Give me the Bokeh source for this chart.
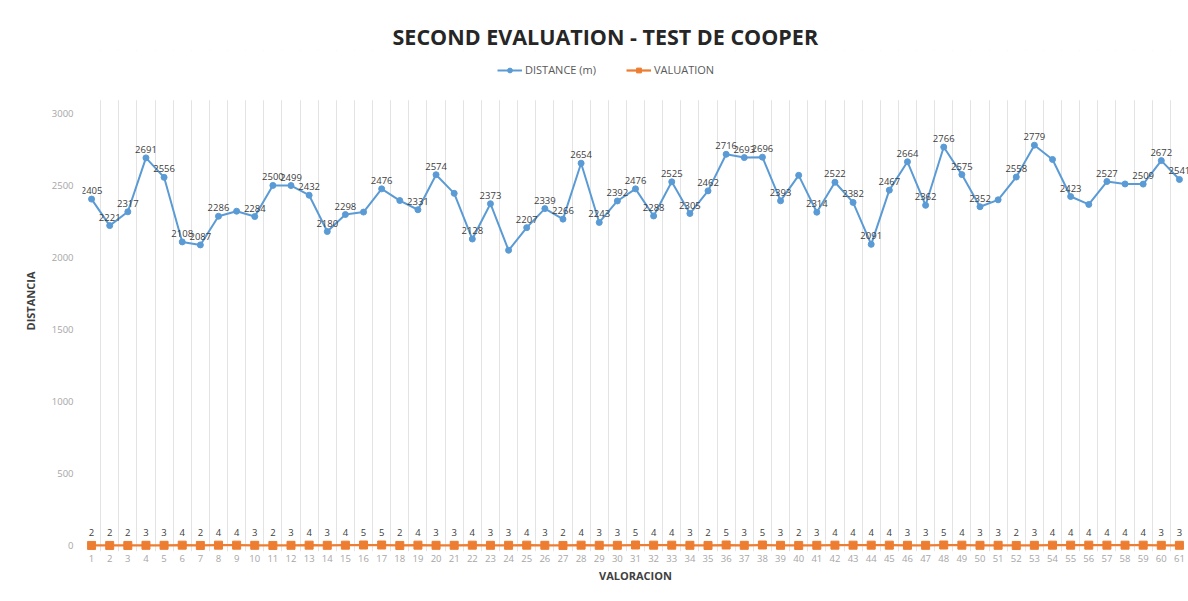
from bokeh.plotting import figure
from bokeh.models import (Range1d, FixedTicker, Legend, LegendItem, ColumnDataSource,
                          BoxAnnotation)
from bokeh.core.properties import value
from bokeh.embed import file_html
from bokeh.resources import INLINE

categories = list(range(1, 62))
distance = [2405, 2221, 2317, 2691, 2556, 2108, 2087, 2286, 2321, 2284,
            2500, 2499, 2432, 2180, 2298, 2315, 2476, 2395, 2331, 2574,
            2445, 2128, 2373, 2050, 2207, 2339, 2266, 2654, 2243, 2392,
            2476, 2288, 2525, 2305, 2462, 2716, 2693, 2696, 2393, 2570,
            2314, 2522, 2382, 2091, 2467, 2664, 2362, 2766, 2575, 2352,
            2400, 2558, 2779, 2680, 2423, 2368, 2527, 2510, 2509, 2672,
            2541]
distance_labels = ["2405", "2221", "2317", "2691", "2556", "2108", "2087", "2286", "", "2284",
                   "2500", "2499", "2432", "2180", "2298", "", "2476", "", "2331", "2574",
                   "", "2128", "2373", "", "2207", "2339", "2266", "2654", "2243", "2392",
                   "2476", "2288", "2525", "2305", "2462", "2716", "2693", "2696", "2393", "",
                   "2314", "2522", "2382", "2091", "2467", "2664", "2362", "2766", "2575", "2352",
                   "", "2558", "2779", "", "2423", "", "2527", "", "2509", "2672",
                   "2541"]
valuation = [2, 2, 2, 3, 3, 4, 2, 4, 4, 3, 2, 3, 4, 3, 4, 5, 5, 2, 4, 3,
             3, 4, 3, 3, 4, 3, 2, 4, 3, 3, 5, 4, 4, 3, 2, 5, 3, 5, 3, 2,
             3, 4, 4, 4, 4, 3, 3, 5, 4, 3, 3, 2, 3, 4, 4, 4, 4, 4, 4, 3,
             3]
y_ticks = [0, 500, 1000, 1500, 2000, 2500, 3000]

title_text = "SECOND EVALUATION - TEST DE COOPER"
x_title = "VALORACION"
y_title = "DISTANCIA"
series_names = ["DISTANCE (m)", "VALUATION"]

BLUE = "#5B9BD5"
ORANGE = "#ED7D31"
FONT = "Open Sans"

src = ColumnDataSource(dict(
    x=categories, dist=distance, dlab=distance_labels,
    val=valuation, vlab=[str(v) for v in valuation],
))

p = figure(width=1188, height=601, output_backend="svg", toolbar_location=None,
           x_range=Range1d(0.5, len(categories) + 0.5), y_range=Range1d(-40, 3436),
           min_border_left=82, min_border_right=0, min_border_top=50,
           min_border_bottom=50)

p.outline_line_color = None
p.background_fill_color = "white"
p.border_fill_color = "white"

# title
p.title.text = title_text
p.title.align = "left"
p.title.offset = 310
p.title.standoff = 0
p.title.text_font = FONT
p.title.text_font_style = "bold"
p.title.text_font_size = "21.5px"
p.title.text_color = "#262626"

# grids (vertical category separators only)
p.ygrid.grid_line_color = None
p.xgrid.ticker = FixedTicker(ticks=[c - 0.5 for c in categories] + [categories[-1] + 0.5])
p.xgrid.grid_line_color = "#e3e3e3"
p.xgrid.grid_line_width = 1
# plot area of the original ends a little above 3000: hide grid above it
p.add_layout(BoxAnnotation(bottom=3090, fill_color="white", fill_alpha=1,
                           line_color=None, level="underlay"))

# axes
for ax in (p.xaxis[0], p.yaxis[0]):
    ax.axis_line_color = None
    ax.major_tick_line_color = None
    ax.minor_tick_line_color = None
    ax.major_tick_out = 0
    ax.major_tick_in = 0
    ax.minor_tick_out = 0
    ax.major_label_text_font = FONT
    ax.major_label_text_font_size = "9.5px"
    ax.major_label_text_color = "#a6a6a6"
    ax.axis_label_text_font = FONT
    ax.axis_label_text_font_style = "bold"
    ax.axis_label_text_font_size = "11px"
    ax.axis_label_text_color = "#404040"

p.xaxis.ticker = FixedTicker(ticks=categories)
p.xaxis.major_label_standoff = 3
p.xaxis.axis_label = x_title
p.xaxis.axis_label_standoff = 3

p.yaxis.ticker = FixedTicker(ticks=y_ticks)
p.yaxis.major_label_standoff = 9
p.yaxis.axis_label = y_title
p.yaxis.axis_label_standoff = 11

# series
lb = p.line("x", "dist", source=src, line_color=BLUE, line_width=2)
sb = p.scatter("x", "dist", source=src, marker="circle", size=6,
               fill_color=BLUE, line_color=BLUE)
lo = p.line("x", "val", source=src, line_color=ORANGE, line_width=2.25)
so = p.scatter("x", "val", source=src, marker="square", size=8,
               fill_color=ORANGE, line_color=ORANGE)

# data labels
p.text("x", "dist", text="dlab", source=src, text_font=value(FONT),
       text_font_size="9.5px", text_color="#404040", text_align="center",
       text_baseline="bottom", y_offset=-5)
p.text("x", "val", text="vlab", source=src, text_font=value(FONT),
       text_font_size="9.5px", text_color="#404040", text_align="center",
       text_baseline="bottom", y_offset=-9)

legend = Legend(items=[LegendItem(label=series_names[0], renderers=[lb, sb]),
                       LegendItem(label=series_names[1], renderers=[lo, so])],
                orientation="horizontal", location=(415, 474),
                border_line_color=None, background_fill_alpha=0,
                label_text_font=FONT, label_text_font_size="11px",
                label_text_color="#595959", glyph_width=25, glyph_height=12,
                label_height=12, label_standoff=3, padding=0, spacing=30, margin=0)
p.add_layout(legend)

open("out.html", "w").write(file_html(p, INLINE))
